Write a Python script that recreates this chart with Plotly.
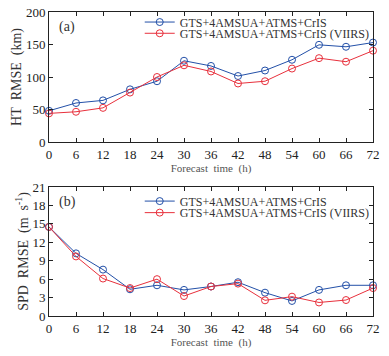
import plotly.graph_objects as go

hours = [0, 6, 12, 18, 24, 30, 36, 42, 48, 54, 60, 66, 72]
ht_ctrl = [48, 60, 64, 81, 93.5, 125, 117, 101.5, 110, 126.5, 149.5, 146.5, 153]
ht_viirs = [44, 46.5, 52.5, 76, 100, 118, 108.5, 90, 93.5, 113, 129, 123.5, 140.5]
spd_ctrl = [14.5, 10.2, 7.55, 4.35, 5.0, 4.25, 4.8, 5.5, 3.8, 2.45, 4.25, 5.0, 5.0]
spd_viirs = [14.5, 9.7, 6.1, 4.55, 6.0, 3.25, 4.8, 5.27, 2.55, 3.15, 2.2, 2.6, 4.55]
name_ctrl = "GTS+4AMSUA+ATMS+CrIS"
name_viirs = "GTS+4AMSUA+ATMS+CrIS (VIIRS)"

BLUE = "#2350a8"
RED = "#e8303c"
FONT = "Liberation Serif"

fig = go.Figure()

def add(x, y, name, color, xa, ya, legend):
    fig.add_trace(go.Scatter(
        x=x, y=y, name=name, mode="lines+markers", xaxis=xa, yaxis=ya,
        line=dict(color=color, width=1),
        marker=dict(symbol="circle-open", size=7, color=color, line=dict(width=1)),
        cliponaxis=False, legend=legend, showlegend=True))

add(hours, ht_ctrl, name_ctrl, BLUE, "x", "y", "legend")
add(hours, ht_viirs, name_viirs, RED, "x", "y", "legend2")
add(hours, spd_ctrl, name_ctrl, BLUE, "x2", "y2", "legend3")
add(hours, spd_viirs, name_viirs, RED, "x2", "y2", "legend4")

axis_common = dict(showline=True, linecolor="#222", linewidth=1, mirror="ticks",
                   ticks="inside", ticklen=4, tickcolor="#222", showgrid=False,
                   zeroline=False, automargin=False,
                   tickfont=dict(family=FONT, size=13, color="#222"))
xt = dict(text="Forecast\u00a0 time\u00a0 (h)", font=dict(family=FONT, size=11, color="#555"), standoff=2)

leg = dict(x=0.28, xanchor="left", yanchor="middle", bgcolor="rgba(0,0,0,0)",
           font=dict(family=FONT, size=12, color="#333"), borderwidth=0,
           itemclick=False, itemdoubleclick=False)

fig.update_layout(
    width=389, height=356,
    margin=dict(l=49, r=16, t=12, b=40, autoexpand=False),
    plot_bgcolor="white", paper_bgcolor="white",
    font=dict(family=FONT, color="#333"),
    xaxis=dict(domain=[0, 1], anchor="y", range=[0, 72], tickvals=hours, title=xt, **axis_common),
    xaxis2=dict(domain=[0, 1], anchor="y2", range=[0, 72], tickvals=hours, title=xt, **axis_common),
    yaxis=dict(domain=[0.5724, 1.0], anchor="x", range=[0, 200], dtick=50,
               title=dict(text="HT\u00a0 RMSE\u00a0 (km)", font=dict(family=FONT, size=14, color="#333"), standoff=0),
               **axis_common),
    yaxis2=dict(domain=[0.0, 0.4243], anchor="x2", range=[0, 21], dtick=3,
                title=dict(text="SPD\u00a0 RMSE\u00a0 (m\u00a0 s<sup>-1</sup>)", font=dict(family=FONT, size=14, color="#333"), standoff=0),
                **axis_common),
    legend=dict(y=0.967, **leg),
    legend2=dict(y=0.930, **leg),
    legend3=dict(y=0.378, **leg),
    legend4=dict(y=0.340, **leg),
)

fig.add_annotation(text="(a)", xref="x domain", yref="y domain", x=0.025, y=0.885,
                   xanchor="left", yanchor="middle", showarrow=False,
                   font=dict(family=FONT, size=14, color="#333"))
fig.add_annotation(text="(b)", xref="x2 domain", yref="y2 domain", x=0.025, y=0.885,
                   xanchor="left", yanchor="middle", showarrow=False,
                   font=dict(family=FONT, size=14, color="#333"))

fig.write_html("out.html", config={"displayModeBar": False},
               post_script="document.body.style.margin='0px';")
